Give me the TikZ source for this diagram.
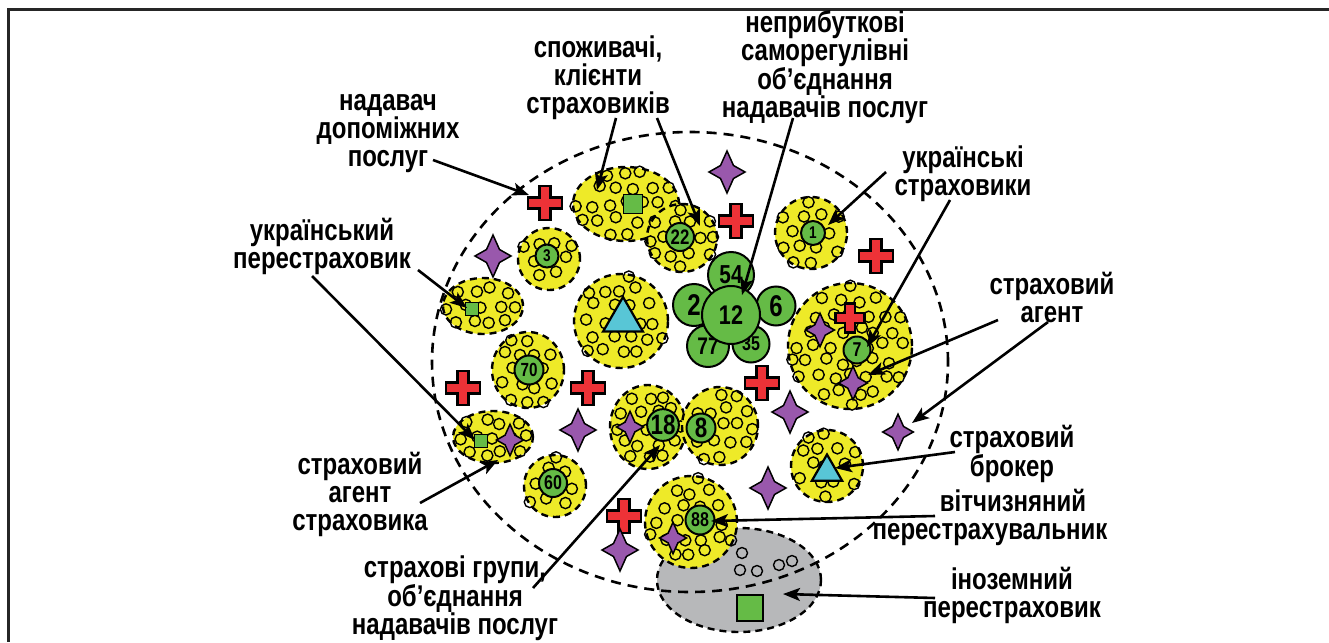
\documentclass[tikz,border=0pt]{standalone}
\usepackage{fontspec}
\setmainfont{Liberation Sans}
\newfontfamily\tallfont[FakeStretch=0.8]{Liberation Sans}
\usetikzlibrary{arrows.meta,calc,shapes.geometric}
\definecolor{cyel}{RGB}{238,234,40}
\definecolor{cgreen}{RGB}{101,187,70}
\definecolor{cblue}{RGB}{88,198,214}
\definecolor{cred}{RGB}{237,50,55}
\definecolor{cpurple}{RGB}{153,88,172}
\definecolor{cgray}{RGB}{183,184,186}
\newcommand\nf[1]{\fontsize{#1}{#1}\selectfont\tallfont\bfseries}
\tikzset{
 blobline/.style={draw=black,line width=2.4pt,dash pattern=on 7pt off 5pt},
 bigline/.style={draw=black,line width=2.6pt,dash pattern=on 10pt off 7pt},
 smallc/.style={draw=black,line width=1.4pt},
 gnum/.style={circle,draw=black,line width=2pt,fill=cgreen,inner sep=0pt},
 gsq/.style={rectangle,draw=black,line width=1.6pt,fill=cgreen,inner sep=0pt},
 tri/.style={regular polygon,regular polygon sides=3,draw=black,line width=2.2pt,fill=cblue,inner sep=0pt},
 lbl/.style={align=center,font=\fontsize{30}{28}\selectfont\tallfont\bfseries,inner sep=0pt},
 arr/.style={line width=2.6pt,-{Stealth[length=17pt,width=13pt,inset=4pt]}},
 crossst/.style={fill=cred,draw=black,line width=2.2pt,line join=miter},
 starst/.style={fill=cpurple,draw=black,line width=1.5pt,line join=miter},
}
\newcommand\fillc[4]{%
 \foreach \j in {-5,...,5}{%
  \foreach \i in {-5,...,5}{%
   \pgfmathsetmacro\px{#1+(\i+0.5*mod(\j+6,2))*17+3.5*rand}%
   \pgfmathsetmacro\py{#2+\j*15.5+3.5*rand}%
   \pgfmathsetmacro\dd{((\px-#1)/#3)^2+((\py-#2)/#4)^2}%
   \ifdim\dd pt<0.93pt \draw[smallc] (\px,\py) circle[radius=5.6pt];\fi
  }}}
\newcommand\rcross[3][1]{\draw[crossst,shift={(#2,#3)},scale=#1] (-5.5,-17) -- (5.5,-17) -- (5.5,-5.5) -- (17,-5.5) -- (17,5.5) -- (5.5,5.5) -- (5.5,17) -- (-5.5,17) -- (-5.5,5.5) -- (-17,5.5) -- (-17,-5.5) -- (-5.5,-5.5) -- cycle;}
\newcommand\pstar[3][1]{\draw[starst,shift={(#2,#3)},scale=#1] (0,-21) -- (6.5,-6.5) -- (18,0) -- (6.5,6.5) -- (0,21) -- (-6.5,6.5) -- (-18,0) -- (-6.5,-6.5) -- cycle;}
\begin{document}
\begin{tikzpicture}[x=1pt,y=-1pt]
\useasboundingbox (0,0) rectangle (1329,642);
\pgfmathsetseed{7}
% frame
\draw[line width=3pt,black!85] (1329,9.5) -- (8.5,9.5) -- (8.5,642);
% foreign reinsurer (gray)
\draw[fill=cgray,blobline] (739,580) ellipse[x radius=82pt,y radius=52pt];
\foreach \p in {(742,553),(740,570),(757,571),(779,565),(792,561)} \draw[smallc] \p circle[radius=5.5pt];
\node[gsq,minimum size=26pt,line width=2pt] (sqI) at (750,608) {};
% big market ellipse
\draw[bigline] (690,362) ellipse[x radius=258pt,y radius=230pt];
% yellow blobs
\foreach \cx/\cy/\rx/\ry in {626/204/53/37,682/238/35/34,549/259/31/31,483/306/40/28,621/321/47/47,528/370/36/38,811/233/36/36,850/346/62/63,648/427/38/42,720/426/38/39,493/437/40/26,555/486/31/31,691/522/46/46,827/466/36/36}{
  \fill[cyel] (\cx,\cy) ellipse[x radius=\rx pt,y radius=\ry pt];
  \fillc{\cx}{\cy}{\rx}{\ry}
  \draw[blobline] (\cx,\cy) ellipse[x radius=\rx pt,y radius=\ry pt];
}
% flower of self-regulating associations
\node[gnum,minimum size=46pt,font=\nf{26}] (n54) at (731,275) {54};
\node[gnum,minimum size=42pt,font=\nf{30}] (n2) at (694,305) {2};
\node[gnum,minimum size=39pt,font=\nf{30}] (n6) at (776,306) {6};
\node[gnum,minimum size=42pt,font=\nf{24}] (n77) at (708,346) {77};
\node[gnum,minimum size=37pt,font=\nf{20}] (n35) at (751,344) {35};
\node[gnum,minimum size=58pt,font=\nf{27}] (n12) at (731,315) {12};
% green insurers
\node[gnum,minimum size=28pt,font=\nf{21}] (n22) at (680,237) {22};
\node[gnum,minimum size=23pt,font=\nf{17}] (n3) at (547,256) {3};
\node[gnum,minimum size=24pt,font=\nf{17}] (n1) at (813,233) {1};
\node[gnum,minimum size=29pt,font=\nf{19}] (n70) at (529,370) {70};
\node[gnum,minimum size=27pt,font=\nf{20}] (n7) at (857,350) {7};
\node[gnum,minimum size=31pt,font=\nf{28}] (n18) at (663,425) {18};
\node[gnum,minimum size=29pt,font=\nf{28}] (n8) at (701,428) {8};
\node[gnum,minimum size=28pt,font=\nf{20}] (n60) at (553,483) {60};
\node[gnum,minimum size=29pt,font=\nf{20}] (n88) at (700,520) {88};
% squares and triangles
\node[gsq,minimum size=19pt] (sq1) at (633,204) {};
\node[gsq,minimum size=13pt] (sq2) at (472,309) {};
\node[gsq,minimum size=13pt] (sq3) at (481,441) {};
\node[tri,minimum size=46pt] (tr1) at (623,320) {};
\node[tri,minimum size=35pt] (tr2) at (827,472) {};
% red crosses
\rcross{545}{203}
\rcross{736}{221}
\rcross{876}{256}
\rcross{463}{388}
\rcross{588}{388}
\rcross{762}{383}
\rcross{624}{516}
\rcross[0.85]{850}{318}
% purple stars
\pstar{727}{172}
\pstar{493}{256}
\pstar[0.8]{820}{330}
\pstar[0.8]{853}{383}
\pstar{790}{412}
\pstar[0.85]{898}{432}
\pstar{578}{430}
\pstar[0.75]{630}{427}
\pstar[0.75]{510}{440}
\pstar{768}{488}
\pstar{620}{550}
\pstar[0.75]{673}{538}
% labels
\node[lbl] (Lnad) at (388,134) {надавач\\допоміжних\\послуг};
\node[lbl] (Lspo) at (598,78) {споживачі,\\клієнти\\страховиків};
\node[lbl] (Lnep) at (825,67) {неприбуткові\\саморегулівні\\об’єднання\\надавачів послуг};
\node[lbl] (Lukr) at (963,174) {українські\\страховики};
\node[lbl] (Lper) at (322,246) {український\\перестраховик};
\node[lbl] (Lag) at (1052,297) {страховий\\агент};
\node[lbl] (Lbr) at (1012,454) {страховий\\брокер};
\node[lbl] (Lvit) at (990,517) {\hspace*{46pt}вітчизняний\\перестрахувальник};
\node[lbl] (Lino) at (1012,595) {іноземний\\перестраховик};
\node[lbl] (Lass) at (360,494) {страховий\\агент\\страховика};
\node[lbl] (Lgr) at (455,598) {страхові групи,\\об’єднання\\надавачів послуг};
% arrow ends
\coordinate (s1) at (433,160); \coordinate (t1) at (529,195);
\coordinate (s2) at (616,118); \coordinate (t2) at (597,190);
\coordinate (s3) at (657,118); \coordinate (t3) at (700,226);
\coordinate (s4) at (793,118); \coordinate (t4) at (742,295);
\coordinate (s5) at (886,172); \coordinate (t5) at (828,225);
\coordinate (s6) at (950,200); \coordinate (t6) at (867,347);
\coordinate (s7) at (998,320); \coordinate (t7) at (868,375);
\coordinate (s8) at (1048,322); \coordinate (t8) at (912,423);
\coordinate (s9) at (955,452); \coordinate (t9) at (835,468);
\coordinate (s10) at (935,516); \coordinate (t10) at (711,521);
\coordinate (s11) at (935,598); \coordinate (t11) at (783,594);
\coordinate (s12) at (418,270); \coordinate (t12) at (467,308);
\coordinate (s13) at (312,276); \coordinate (t13) at (475,440);
\coordinate (s14) at (420,503); \coordinate (t14) at (498,460);
\coordinate (s15) at (533,588); \coordinate (t15) at (660,445);
\foreach \k in {1,...,15} \draw[arr] (s\k) -- (t\k);
\end{tikzpicture}
\end{document}
